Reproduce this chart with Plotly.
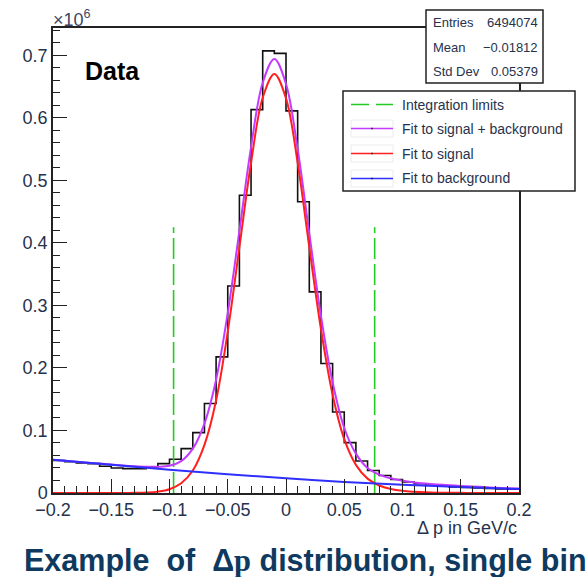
import plotly.graph_objects as go

# ---- histogram: Delta p, 40 bins of 0.01 GeV/c, counts in units of 10^6 ----
BIN_LOW = -0.2
BIN_WIDTH = 0.01
hist_counts = [
    0.052, 0.050, 0.048, 0.047, 0.0427, 0.040, 0.039, 0.039, 0.0416, 0.047,
    0.054, 0.071, 0.0966, 0.143, 0.2176, 0.331, 0.476, 0.613, 0.707, 0.703,
    0.611, 0.4656, 0.3216, 0.207, 0.1296, 0.0806, 0.0512, 0.036, 0.028, 0.0215,
    0.0175, 0.0148, 0.0128, 0.0112, 0.0098, 0.0088, 0.0080, 0.0072, 0.0066, 0.0060,
]

# ---- fitted functions sampled along Delta p ----
fit_x = [round(-0.2 + 0.01 * i, 2) for i in range(41)]
fit_total = [
    0.053, 0.0515, 0.050, 0.0485, 0.047, 0.0455, 0.044, 0.0428, 0.0420, 0.0420,
    0.0435, 0.051, 0.071, 0.111, 0.181, 0.288, 0.419, 0.553, 0.656, 0.694,
    0.654, 0.550, 0.415, 0.283, 0.177, 0.104, 0.063, 0.040, 0.0295, 0.0235,
    0.0195, 0.0168, 0.0150, 0.0136, 0.0124, 0.0113, 0.0103, 0.0094, 0.0085, 0.0077,
    0.0070,
]
fit_signal = [
    0.0, 0.0, 0.0, 0.0, 0.0, 0.0, 0.0, 0.0003, 0.0008, 0.0022,
    0.006, 0.0155, 0.036, 0.077, 0.148, 0.258, 0.393, 0.528, 0.632, 0.670,
    0.631, 0.528, 0.393, 0.262, 0.157, 0.086, 0.045, 0.023, 0.012, 0.0065,
    0.0035, 0.002, 0.001, 0.0005, 0.0003, 0.0002, 0.0001, 0.0, 0.0, 0.0,
    0.0,
]
bkg_x = [-0.2, -0.15, -0.1, -0.05, 0.0, 0.05, 0.1, 0.15, 0.2]
fit_background = [0.053, 0.045, 0.037, 0.030, 0.0235, 0.0175, 0.013, 0.0095, 0.0062]

# integration window
limit_x = [-0.0965, 0.0761]
limit_height = 0.425

# stats box
stats_labels = ["Entries", "Mean", "Std Dev"]
stats_values = ["6494074", "\u22120.01812", "0.05379"]

legend_labels = ["Integration limits", "Fit to signal + background",
                 "Fit to signal", "Fit to background"]

C_GREEN = "#22cc22"
C_TOTAL = "#c23bff"
C_SIGNAL = "#ff1f1f"
C_BKG = "#2f2fff"
TXT = "#26324d"
FONT = "Liberation Sans, Arial, sans-serif"

# page geometry (pixels) of the frame
L, R, T, B = 53, 519, 28, 493
W, H = 587, 577


def px(xp):
    return (xp - L) / (R - L)


def py(yp):
    return (B - yp) / (B - T)


# histogram outline as steps
edges = [round(BIN_LOW + BIN_WIDTH * i, 3) for i in range(len(hist_counts) + 1)]
step_y = hist_counts + [hist_counts[-1]]

fig = go.Figure()
fig.add_trace(go.Scatter(x=edges, y=step_y, mode="lines", line_shape="hv",
                         line=dict(color="#111111", width=1.6), hoverinfo="skip"))
for lx in limit_x:
    fig.add_trace(go.Scatter(x=[lx, lx], y=[0, limit_height], mode="lines",
                             line=dict(color=C_GREEN, width=1.6, dash="21px,5px")))
fig.add_trace(go.Scatter(x=fit_x, y=fit_total, mode="lines", line_shape="spline",
                         line=dict(color=C_TOTAL, width=2)))
fig.add_trace(go.Scatter(x=fit_x, y=fit_signal, mode="lines", line_shape="spline",
                         line=dict(color=C_SIGNAL, width=2)))
fig.add_trace(go.Scatter(x=bkg_x, y=fit_background, mode="lines", line_shape="spline",
                         line=dict(color=C_BKG, width=2)))

shapes = []
annotations = []

# stats box
sx0, sx1, sy0, sy1 = 426, 543, 10, 83
shapes.append(dict(type="rect", xref="paper", yref="paper", layer="above",
                   x0=px(sx0), x1=px(sx1), y0=py(sy1), y1=py(sy0),
                   fillcolor="white", line=dict(color="#222", width=1.5)))
for i, (lab, val) in enumerate(zip(stats_labels, stats_values)):
    yc = py(22.5 + 24.5 * i)
    annotations.append(dict(xref="paper", yref="paper", x=px(431), y=yc, text=lab,
                            xanchor="left", yanchor="middle", showarrow=False,
                            font=dict(family=FONT, size=13, color=TXT)))
    annotations.append(dict(xref="paper", yref="paper", x=px(540), y=yc, text=val,
                            xanchor="right", yanchor="middle", showarrow=False,
                            font=dict(family=FONT, size=13, color=TXT)))

# legend box
lx0, lx1, ly0, ly1 = 343, 575, 91, 191
shapes.append(dict(type="rect", xref="paper", yref="paper", layer="above",
                   x0=px(lx0), x1=px(lx1), y0=py(ly1), y1=py(ly0),
                   fillcolor="white", line=dict(color="#222", width=1.5)))
row_y = [104.5, 128.5, 153.5, 178.5]
sample_colors = [C_GREEN, C_TOTAL, C_SIGNAL, C_BKG]
for i, (lab, col) in enumerate(zip(legend_labels, sample_colors)):
    yy = row_y[i]
    if i == 0:
        shapes.append(dict(type="line", xref="paper", yref="paper", layer="above",
                           x0=px(351), x1=px(393), y0=py(yy), y1=py(yy),
                           line=dict(color=col, width=1.6, dash="18px,7px")))
    else:
        shapes.append(dict(type="rect", xref="paper", yref="paper", layer="above",
                           x0=px(351), x1=px(393), y0=py(yy + 8.5), y1=py(yy - 8.5),
                           fillcolor="rgba(0,0,0,0)", line=dict(color="#ececec", width=1)))
        shapes.append(dict(type="line", xref="paper", yref="paper", layer="above",
                           x0=px(351), x1=px(393), y0=py(yy), y1=py(yy),
                           line=dict(color=col, width=1.6)))
        shapes.append(dict(type="rect", xref="paper", yref="paper", layer="above",
                           x0=px(371.3), x1=px(372.7), y0=py(yy + 0.7), y1=py(yy - 0.7),
                           fillcolor="#111", line=dict(width=0)))
    annotations.append(dict(xref="paper", yref="paper", x=px(400), y=py(yy), text=lab,
                            xanchor="left", yanchor="middle", showarrow=False,
                            font=dict(family=FONT, size=14, color=TXT)))

# labels
annotations.append(dict(xref="paper", yref="paper", x=px(83), y=py(71), text="<b>Data</b>",
                        xanchor="left", yanchor="middle", showarrow=False,
                        font=dict(family=FONT, size=25, color="#000")))
annotations.append(dict(xref="paper", yref="paper", x=px(51), y=py(18), text="\u00d710<sup>6</sup>",
                        xanchor="left", yanchor="middle", showarrow=False,
                        font=dict(family=FONT, size=18, color="#3a4866")))
annotations.append(dict(xref="paper", yref="paper", x=px(R), y=py(528), text="\u0394 p in GeV/c",
                        xanchor="right", yanchor="middle", showarrow=False,
                        font=dict(family=FONT, size=18, color=TXT)))
annotations.append(dict(xref="paper", yref="paper", x=px(22), y=py(560),
                        text="<b>Example  of  \u0394<span style=\"font-family:'Liberation Serif', serif\">p</span> distribution, single bin</b>",
                        xanchor="left", yanchor="middle", showarrow=False,
                        font=dict(family=FONT, size=30.5, color="#0f3a60")))

axis_common = dict(showline=True, linecolor="#222", linewidth=1.5, mirror=True,
                   ticks="inside", ticklen=14, tickwidth=1.2, tickcolor="#222",
                   showgrid=False, zeroline=False,
                   tickfont=dict(family=FONT, size=18, color=TXT))

fig.update_layout(
    width=W, height=H,
    margin=dict(l=L, r=W - R, t=T, b=H - B),
    paper_bgcolor="white", plot_bgcolor="white",
    showlegend=False,
    xaxis=dict(range=[-0.2, 0.2], tick0=-0.2, dtick=0.05,
               minor=dict(dtick=0.01, ticks="inside", ticklen=7, tickwidth=1.2,
                          tickcolor="#222", showgrid=False),
               ticklabelstandoff=0, **axis_common),
    yaxis=dict(range=[0, 0.7435], tick0=0, dtick=0.1,
               minor=dict(dtick=0.02, ticks="inside", ticklen=7, tickwidth=1.2,
                          tickcolor="#222", showgrid=False),
               ticklabelstandoff=0, **axis_common),
    shapes=shapes,
    annotations=annotations,
)

fig.write_html("out.html")
